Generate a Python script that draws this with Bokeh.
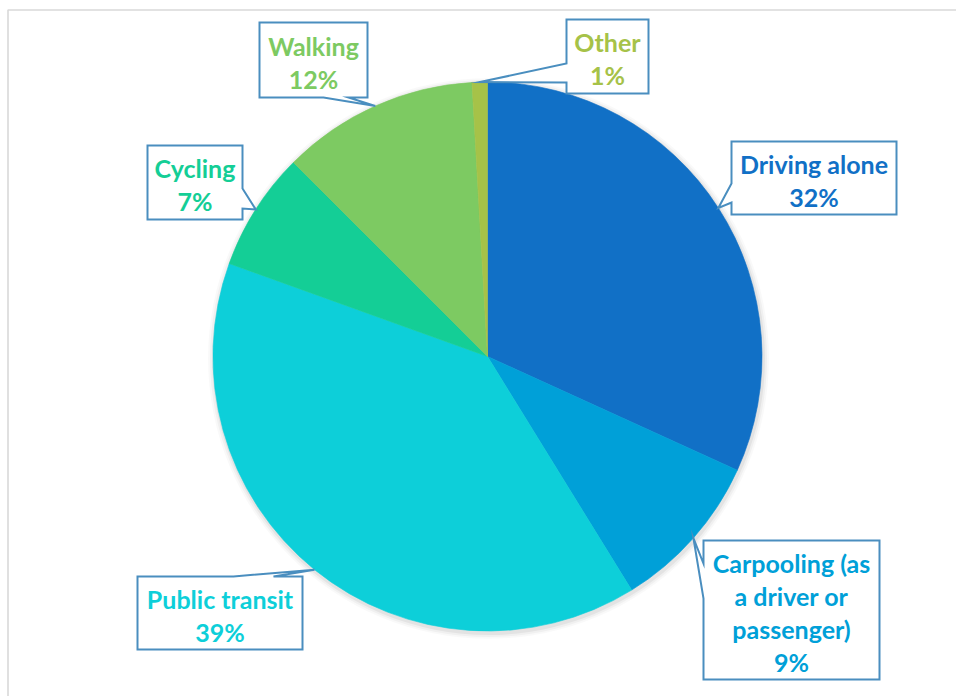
import math
import textwrap
from bokeh.plotting import figure
from bokeh.models import Range1d
from bokeh.core.properties import value
from bokeh.embed import file_html
from bokeh.resources import INLINE

# ---------------- data ----------------
categories = ["Driving alone", "Carpooling (as a driver or passenger)", "Public transit",
              "Cycling", "Walking", "Other"]
shares = [31.8, 9.4, 39.3, 7.0, 11.6, 0.9]
colors = ["#1170C6", "#00A0D8", "#0DCFD9", "#14CE96", "#7DCA62", "#A6C248"]

# ---------------- layout (page pixel coordinates) ----------------
W, H = 956, 696
CX, CY, R = 487, 356, 274.5
# callout boxes: (x0, y0, x1, y1), side carrying the pointer, base span on that side
callout_boxes = [(731, 141, 896, 214), (703, 540, 879, 679), (137, 576, 302, 649),
                 (147, 145, 242, 219), (259, 22, 367, 97), (566, 19, 648, 93)]
callout_sides = ["left", "left", "top", "right", "bottom", "left"]
callout_bases = [(183, 202), (563, 598), (233, 273), (188, 208), (323, 348), (63, 82)]
LINE_GAP = 33


def X(px):
    return px


def Y(py):
    return H - py


p = figure(width=W, height=H, output_backend="svg", toolbar_location=None,
           x_range=Range1d(0, W), y_range=Range1d(0, H),
           x_axis_location=None, y_axis_location=None, min_border=0)
p.grid.visible = False
p.outline_line_color = None
p.background_fill_color = "white"
p.border_fill_color = "white"

# chart-area border (top & left visible)
p.line([X(7.5), X(7.5), W], [0, Y(9.5), Y(9.5)], line_color="#D9D9D9", line_width=1.6)

# soft shadow of the pie
for k, a in [(6, 0.025), (4, 0.035), (2, 0.05)]:
    p.circle(x=[X(CX) + 1], y=[Y(CY) - 2], radius=R + k, fill_color="#000000",
             fill_alpha=a, line_color=None)

# pie slices (clockwise from 12 o'clock)
total = sum(shares)
cum = 0.0
starts, ends, mids = [], [], []
for v in shares:
    th_s = 2 * math.pi * cum / total
    cum += v
    th_e = 2 * math.pi * cum / total
    starts.append(math.pi / 2 - th_e)
    ends.append(math.pi / 2 - th_s)
    mids.append((th_s + th_e) / 2)

p.wedge(x=[X(CX)] * len(shares), y=[Y(CY)] * len(shares), radius=R,
        start_angle=starts, end_angle=ends, direction="anticlock",
        fill_color=colors, line_color=colors, line_width=0.6)

# callouts
xs_all, ys_all = [], []
tx, ty, tt, tc = [], [], [], []
for i, cat in enumerate(categories):
    x0, y0, x1, y1 = callout_boxes[i]
    side = callout_sides[i]
    b0, b1 = callout_bases[i]
    th = mids[i]
    tip = (CX + R * math.sin(th), CY - R * math.cos(th))
    pts = [(x0, y0)]
    if side == "top":
        pts += [(b0, y0), tip, (b1, y0)]
    pts.append((x1, y0))
    if side == "right":
        pts += [(x1, b0), tip, (x1, b1)]
    pts.append((x1, y1))
    if side == "bottom":
        pts += [(b1, y1), tip, (b0, y1)]
    pts.append((x0, y1))
    if side == "left":
        pts += [(x0, b1), tip, (x0, b0)]
    xs_all.append([X(a) for a, _ in pts])
    ys_all.append([Y(b) for _, b in pts])

    lines = textwrap.wrap(cat, width=14) + ["%d%%" % round(shares[i])]
    cx = (x0 + x1) / 2
    cy = (y0 + y1) / 2 + 2
    n = len(lines)
    for j, ln in enumerate(lines):
        tx.append(X(cx))
        ty.append(Y(cy + (j - (n - 1) / 2) * LINE_GAP))
        tt.append(ln)
        tc.append(colors[i])

p.patches(xs_all, ys_all, fill_color="white", line_color="#4A8EBF", line_width=2,
          line_join="miter")
p.text(x=tx, y=ty, text=tt, text_color=tc, text_font=value("Lato"),
       text_font_style="bold", text_font_size="25px", text_align="center",
       text_baseline="middle")

open("out.html", "w").write(file_html(p, INLINE))
